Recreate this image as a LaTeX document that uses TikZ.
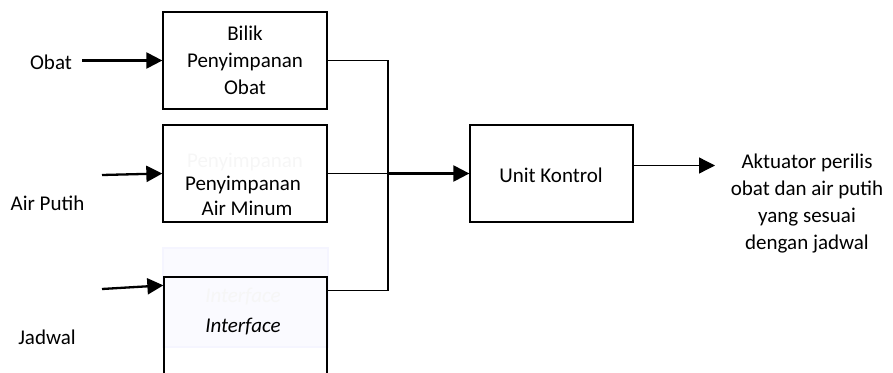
\documentclass[tikz,border=0pt]{standalone}
\usepackage{fontspec}
\setmainfont{Carlito}
\usetikzlibrary{arrows.meta,calc}
\begin{document}
\begin{tikzpicture}[x=1pt,y=-1pt,
  blk/.style={draw=black,line width=1.3pt,rectangle,inner sep=0pt},
  txt/.style={font=\fontsize{21}{27}\selectfont,align=center,inner sep=0pt},
  ghosttxt/.style={font=\fontsize{21}{27}\selectfont,align=center,inner sep=0pt,text=blue!4!gray!7},
  thin/.style={line width=1.3pt},
  thick/.style={line width=2.3pt},
  arr/.style={-{Triangle[length=16pt,width=16pt]}}
]
\useasboundingbox (0,0) rectangle (893,372);
\clip (0,0) rectangle (893,372);
% ghost shadow box behind Interface
\node[rectangle,inner sep=0pt,minimum width=165pt,minimum height=99pt,fill=blue!2,draw=blue!4,line width=2pt] (gbox) at (245.5,297.5) {};
\node[ghosttxt,font=\fontsize{21}{27}\selectfont\itshape] (gtxt3) at (243,297) {Interface};
\node[ghosttxt] (gtxt2) at (245,162) {Penyimpanan};
% blocks
\node[blk,minimum width=164pt,minimum height=97pt] (b1) at (245,60.5) {};
\node[blk,minimum width=164pt,minimum height=97pt] (b2) at (245,173.5) {};
\node[blk,minimum width=163pt,minimum height=143pt] (b3) at (245.5,348.5) {};
\node[blk,minimum width=163pt,minimum height=97pt] (u) at (551.5,173.5) {};
% block texts
\node[txt] (t1) at (245,60.5) {Bilik\\Penyimpanan\\Obat};
\node[txt,font=\fontsize{21}{25}\selectfont] (t2) at (243,195.5) {Penyimpanan\\\hspace*{8pt}Air Minum};
\node[txt,font=\fontsize{21}{27}\selectfont\itshape] (t3) at (243,327) {Interface};
\node[txt] (tu) at (551,175) {Unit Kontrol};
% outer labels
\node[txt] (lobat) at (51,62) {Obat};
\node[txt] (lair) at (47.5,203) {Air Putih};
\node[txt] (ljad) at (47,337) {Jadwal};
\node[txt] (lout) at (807,204) {Aktuator perilis\\obat dan air putih\\yang sesuai\\dengan jadwal};
% free ends
\coordinate (obatS) at (82,60.5);
\coordinate (airS) at (102,175);
\coordinate (jadS) at (102,289);
\coordinate (b3in) at ($(b3.north west)+(0,9)$);
\coordinate (b3out) at ($(b3.north east)+(0,14)$);
\coordinate (jx) at (388,173.5);
\coordinate (uout) at ($(u.east)+(0,-8)$);
\coordinate (outE) at (715,165.5);
% connectors
\draw[thick,arr] (obatS) -- (b1.west);
\draw[thick,arr] (airS) -- (b2.west);
\draw[thick,arr] (jadS) -- (b3in);
\draw[thin] (b1.east) -| (jx);
\draw[thin] (b3out) -| (jx);
\draw[thin] (b2.east) -- (jx);
\draw[thick,arr] (jx) -- (u.west);
\draw[thin,arr] (uout) -- (outE);
\end{tikzpicture}
\end{document}
